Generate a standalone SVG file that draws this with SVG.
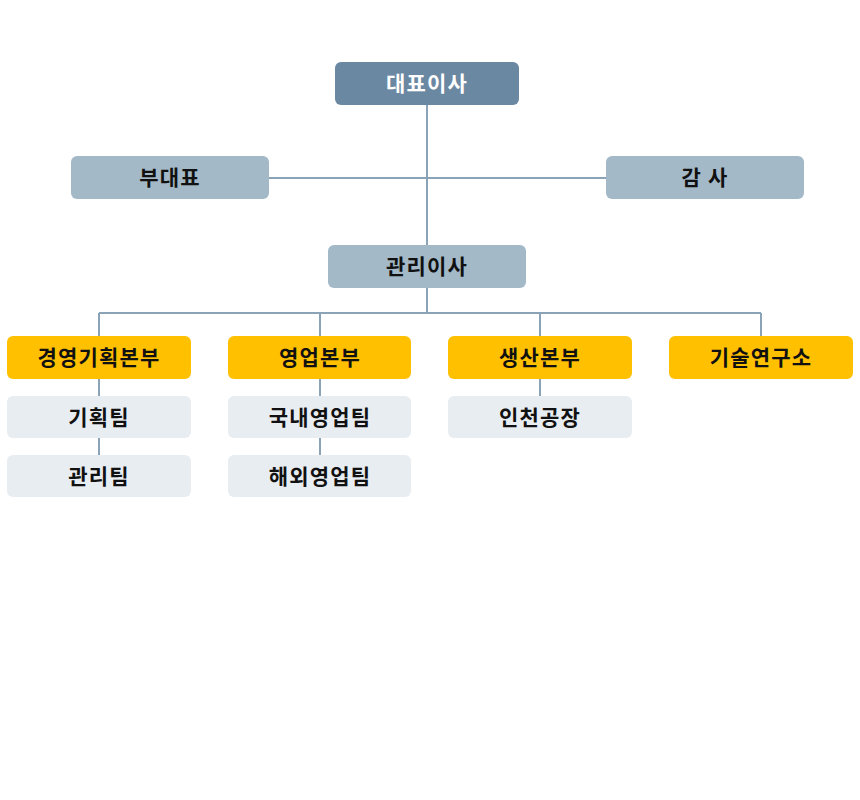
<svg xmlns="http://www.w3.org/2000/svg" width="860" height="800" viewBox="0 0 860 800">
<style>
.t{font-family:"Noto Sans CJK KR","Noto Sans",sans-serif;font-weight:700;font-size:21px;text-anchor:middle;dominant-baseline:central;fill:#111;letter-spacing:1.2px}
.top{fill:#6b88a2}
.sec{fill:#a3b9c8}
.div{fill:#ffc000}
.team{fill:#e8edf1}
.w{fill:#fff}
.c{stroke:#8aa3b6;stroke-width:2;fill:none}
</style>
<rect width="860" height="800" fill="#fff"/>
<g id="connectors" class="c">
<path d="M427 105V245M269 178H606M427 288V313M99 313H761M99 313V336M320 313V336M540 313V336M761 313V336"/>
<path d="M99 379V396M99 438V455M320 379V396M320 438V455M540 379V396"/>
</g>
<g id="ceo"><rect class="top" x="335" y="62" width="184" height="43" rx="6"/><text class="t w" x="427" y="82">대표이사</text></g>
<g id="vice"><rect class="sec" x="71" y="156" width="198" height="43" rx="6"/><text class="t" x="170" y="176">부대표</text></g>
<g id="audit"><rect class="sec" x="606" y="156" width="198" height="43" rx="6"/><text class="t" x="705" y="176">감 사</text></g>
<g id="mgmt"><rect class="sec" x="328" y="245" width="198" height="43" rx="6"/><text class="t" x="427" y="265">관리이사</text></g>
<g id="div1"><rect class="div" x="7" y="336" width="184" height="43" rx="6"/><text class="t" x="99" y="356">경영기획본부</text></g>
<g id="div2"><rect class="div" x="228" y="336" width="183" height="43" rx="6"/><text class="t" x="320" y="356">영업본부</text></g>
<g id="div3"><rect class="div" x="448" y="336" width="184" height="43" rx="6"/><text class="t" x="540" y="356">생산본부</text></g>
<g id="div4"><rect class="div" x="669" y="336" width="184" height="43" rx="6"/><text class="t" x="761" y="356">기술연구소</text></g>
<g id="team1"><rect class="team" x="7" y="396" width="184" height="42" rx="6"/><text class="t" x="99" y="415.5">기획팀</text></g>
<g id="team2"><rect class="team" x="7" y="455" width="184" height="42" rx="6"/><text class="t" x="99" y="474.5">관리팀</text></g>
<g id="team3"><rect class="team" x="228" y="396" width="183" height="42" rx="6"/><text class="t" x="320" y="415.5">국내영업팀</text></g>
<g id="team4"><rect class="team" x="228" y="455" width="183" height="42" rx="6"/><text class="t" x="320" y="474.5">해외영업팀</text></g>
<g id="team5"><rect class="team" x="448" y="396" width="184" height="42" rx="6"/><text class="t" x="540" y="415.5">인천공장</text></g>
</svg>
